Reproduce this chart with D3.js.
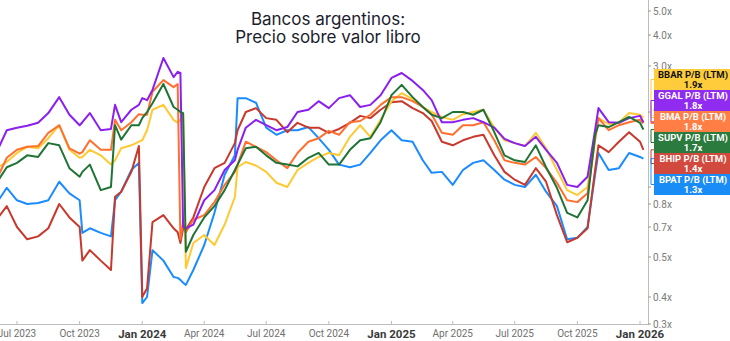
<!DOCTYPE html>
<html>
<head>
<meta charset="utf-8">
<script src="https://cdn.jsdelivr.net/npm/d3@7"></script>
<style>
  body { margin: 0; background: #fff; }
  svg { display: block; font-family: Roboto, "Noto Sans", sans-serif; }
</style>
</head>
<body>
<div id="chart"></div>
<script>
// fechas (quincenales, con algunos puntos extra donde hay saltos)
const dates = [
  "2023-06-01","2023-06-16","2023-07-01","2023-07-16","2023-08-01","2023-08-16","2023-09-01","2023-09-16",
  "2023-10-01","2023-10-05","2023-10-16","2023-11-01","2023-11-16","2023-11-22","2023-12-01","2023-12-16",
  "2023-12-27","2024-01-01","2024-01-08","2024-01-16","2024-02-01","2024-02-16","2024-02-22","2024-02-26",
  "2024-03-01","2024-03-05","2024-03-16","2024-04-01","2024-04-16","2024-05-01","2024-05-16","2024-05-20",
  "2024-06-01","2024-06-16","2024-07-01","2024-07-16","2024-08-01","2024-08-16","2024-09-01","2024-09-16",
  "2024-10-01","2024-10-16","2024-11-01","2024-11-16","2024-12-01","2024-12-16","2025-01-01","2025-01-16",
  "2025-02-01","2025-02-16","2025-03-01","2025-03-16","2025-04-01","2025-04-16","2025-05-01","2025-05-16",
  "2025-06-01","2025-06-16","2025-07-01","2025-07-16","2025-08-01","2025-08-16","2025-09-01","2025-09-16",
  "2025-10-01","2025-10-16","2025-10-27","2025-11-01","2025-11-16","2025-12-01","2025-12-16","2026-01-01",
  "2026-01-06"
];

const bbar = [1.19,1.26,1.37,1.45,1.43,1.57,1.77,1.41, 1.31,1.32,1.41,1.34,1.23,1.28,1.43,1.47,
  1.52,1.54,1.69,2.04,2.13,1.86,1.81,1.86, 1.95,0.47,0.585,0.64,0.572,0.71,0.877,1.20,
  1.26,1.22,1.15,1.04,1.00,1.17,1.25,1.32, 1.37,1.34,1.59,1.77,1.59,1.86,2.20,2.36,
  2.24,2.09,2.00,1.91,1.86,1.96,2.00,2.04, 1.73,1.54,1.50,1.46,1.65,1.43,1.17,0.96,
  0.90,1.00,1.62,1.89,1.79,1.81,1.98,1.95, 1.90];

const ggal = [1.38,1.69,1.73,1.76,1.81,1.98,2.28,1.95, 1.77,1.82,1.98,1.69,1.71,2.13,1.82,2.04,
  2.13,2.26,2.22,2.43,3.23,2.72,2.85,2.82, 0.70,0.69,0.71,0.84,0.96,1.17,1.28,1.41,
  1.73,1.86,1.77,1.69,1.74,2.00,2.04,2.20, 2.07,2.26,2.32,2.09,2.13,2.32,2.70,2.82,
  2.63,2.43,2.22,1.82,1.82,1.86,1.89,1.82, 1.73,1.56,1.50,1.46,1.59,1.41,1.25,1.02,
  1.00,1.10,1.69,2.07,1.82,1.81,1.89,1.93, 1.82];

const bma = [1.07,1.31,1.41,1.45,1.46,1.65,1.77,1.43, 1.36,1.38,1.54,1.41,1.41,1.86,1.69,1.82,
  1.96,1.95,1.95,2.39,2.65,2.49,2.56,0.61, 0.72,0.66,0.73,0.75,0.82,1.02,1.15,1.23,
  1.52,1.45,1.38,1.28,1.19,1.37,1.52,1.57, 1.68,1.62,1.82,1.84,1.95,2.13,2.28,2.28,
  2.20,2.09,1.96,1.65,1.62,1.77,1.77,1.82, 1.54,1.28,1.25,1.23,1.32,1.19,1.04,0.84,
  0.82,0.92,1.54,1.89,1.69,1.77,1.82,1.86, 1.80];

const supv = [1.04,1.20,1.25,1.34,1.32,1.50,1.47,1.19, 1.10,1.15,1.23,0.96,1.00,1.77,1.55,1.77,
  1.77,1.89,2.00,2.16,2.56,2.09,2.04,2.00, 1.98,0.53,0.64,0.74,0.79,0.96,1.17,1.23,
  1.43,1.45,1.34,1.25,1.23,1.21,1.31,1.37, 1.23,1.23,1.41,1.54,1.57,1.82,2.32,2.54,
  2.28,2.09,1.95,1.89,2.00,2.00,1.95,2.04, 1.66,1.34,1.28,1.26,1.47,1.20,0.99,0.76,
  0.74,0.84,1.62,1.77,1.74,1.82,1.91,1.81, 1.70];

const bhip = [0.73,0.79,0.70,0.61,0.63,0.69,0.80,0.74, 0.70,0.49,0.54,0.49,0.465,0.88,0.94,1.15,
  1.46,0.40,0.42,0.72,0.75,0.69,0.66,0.585, 0.69,0.68,0.74,1.00,1.19,1.25,1.50,1.69,
  2.00,2.07,1.89,1.86,1.66,1.81,1.73,1.73, 1.65,1.71,1.81,1.93,1.89,2.04,2.18,2.20,
  2.07,1.98,1.84,1.52,1.47,1.54,1.59,1.62, 1.34,1.15,1.07,1.02,1.19,1.05,0.75,0.59,
  0.62,0.69,1.17,1.47,1.38,1.52,1.66,1.52, 1.41];

const bpat = [0.81,0.99,0.84,0.80,0.81,0.84,1.05,0.92, 0.84,0.655,0.69,0.655,0.63,0.84,0.94,1.17,
  1.25,0.375,0.40,0.54,0.49,0.447,0.445,0.44, 0.433,0.428,0.465,0.572,0.76,1.12,1.34,2.26,
  2.26,2.17,1.73,1.62,1.69,1.69,1.74,1.57, 1.41,1.23,1.20,1.23,1.37,1.54,1.69,1.54,
  1.52,1.28,1.14,1.15,1.02,1.17,1.25,1.28, 1.17,1.07,1.02,1.00,1.12,0.94,0.79,0.61,
  0.62,0.70,1.12,1.37,1.17,1.19,1.37,1.32, 1.30];

const xTicks = ["2023-07-01","2023-10-01","2024-01-01","2024-04-01","2024-07-01","2024-10-01",
  "2025-01-01","2025-04-01","2025-07-01","2025-10-01","2026-01-01"];
const yTicks = [0.3, 0.4, 0.5, 0.7, 0.8, 1, 2, 3, 4, 5];
// el eje original no es logarítmico puro: posiciones de cada marca en la imagen
const yTickPx = [324, 297, 257, 227, 204, 187, 112, 66, 35, 11];

const series = [
  { name: "BPAT", values: bpat, line: "#1a8cff", box: "#1a8cf5", ink: "#fff" },
  { name: "BHIP", values: bhip, line: "#c9382c", box: "#d24a3e", ink: "#fff" },
  { name: "BBAR", values: bbar, line: "#ffc933", box: "#ffcd3c", ink: "#111" },
  { name: "BMA",  values: bma,  line: "#ff6f2e", box: "#ff7e45", ink: "#fff" },
  { name: "GGAL", values: ggal, line: "#8a1ff0", box: "#8f2cf0", ink: "#fff" },
  { name: "SUPV", values: supv, line: "#1f7435", box: "#2b7a3e", ink: "#fff" }
];
const labelOrder = ["BBAR", "GGAL", "BMA", "SUPV", "BHIP", "BPAT"];

const width = 730, height = 341;
const plotRight = 648, plotBottom = 324;

const parse = d3.timeParse("%Y-%m-%d");
const dts = dates.map(parse);

const x = d3.scaleTime()
  .domain([parse("2023-07-01"), parse("2026-01-01")])
  .range([17, 640]);

const y = d3.scaleLog()
  .domain(yTicks)
  .range(yTickPx);

const svg = d3.select("#chart").append("svg")
  .attr("width", width)
  .attr("height", height);

svg.append("defs").append("clipPath").attr("id", "plot")
  .append("rect").attr("x", 0).attr("y", 0).attr("width", plotRight).attr("height", plotBottom);

// titulo
const title = svg.append("text")
  .attr("x", 328).attr("text-anchor", "middle")
  .style("font-family", "Inter, Roboto, sans-serif")
  .style("font-size", "17px")
  .attr("fill", "#1b1d2e");
title.append("tspan").attr("x", 328).attr("y", 25).text("Bancos argentinos:");
title.append("tspan").attr("x", 328).attr("y", 43).text("Precio sobre valor libro");

// eje x
svg.append("line")
  .attr("x1", 0).attr("x2", plotRight)
  .attr("y1", plotBottom + 0.5).attr("y2", plotBottom + 0.5)
  .attr("stroke", "#bdbdbd");

const xg = svg.append("g");
xTicks.forEach(t => {
  const d = parse(t);
  const px = x(d);
  const isJan = d.getMonth() === 0;
  xg.append("line")
    .attr("x1", px).attr("x2", px)
    .attr("y1", plotBottom - 3).attr("y2", plotBottom)
    .attr("stroke", "#bdbdbd");
  xg.append("text")
    .attr("x", px).attr("y", isJan ? 338 : 337)
    .attr("text-anchor", "middle")
    .style("font-size", isJan ? "11.5px" : "10px")
    .style("font-weight", isJan ? "bold" : "normal")
    .attr("fill", isJan ? "#3a3a3a" : "#6f6f6f")
    .text(d3.timeFormat("%b %Y")(d));
});

// eje y (derecha)
svg.append("line")
  .attr("x1", plotRight + 0.5).attr("x2", plotRight + 0.5)
  .attr("y1", 0).attr("y2", plotBottom + 1)
  .attr("stroke", "#bdbdbd");

const yg = svg.append("g");
yTicks.forEach(v => {
  yg.append("line")
    .attr("x1", plotRight).attr("x2", plotRight + 3)
    .attr("y1", y(v)).attr("y2", y(v))
    .attr("stroke", "#9a9a9a");
  yg.append("text")
    .attr("x", plotRight + 5).attr("y", y(v))
    .attr("dy", "0.35em")
    .style("font-size", "10px")
    .attr("fill", "#7a7a7a")
    .text(v.toFixed(1) + "x");
});

// lineas
const line = d3.line()
  .x((d, i) => x(dts[i]))
  .y(d => y(d));

const lines = svg.append("g").attr("clip-path", "url(#plot)");
series.forEach(s => {
  lines.append("path")
    .datum(s.values)
    .attr("fill", "none")
    .attr("stroke", s.line)
    .attr("stroke-width", 2)
    .attr("stroke-linejoin", "round")
    .attr("d", line);
});

// etiquetas de ultimo valor
const boxTop = 69, boxH = 21, boxX = 654;
labelOrder.forEach((name, i) => {
  const s = series.find(d => d.name === name);
  const last = s.values[s.values.length - 1];
  const top = boxTop + i * boxH;
  const mid = top + boxH / 2;
  const vy = y(last);

  svg.append("path")
    .attr("d", `M${boxX},${mid}H${plotRight + 3}V${vy}H${boxX}`)
    .attr("fill", "none")
    .attr("stroke", s.line)
    .attr("stroke-width", 1);

  svg.append("rect")
    .attr("x", boxX).attr("y", top)
    .attr("width", width - boxX).attr("height", boxH)
    .attr("fill", s.box);

  const t = svg.append("text")
    .attr("text-anchor", "middle")
    .style("font-size", "9.5px")
    .style("font-weight", "bold")
    .attr("fill", s.ink);
  t.append("tspan").attr("x", 693).attr("y", top + 9).text(name + " P/B (LTM)");
  t.append("tspan").attr("x", 693).attr("y", top + 18.5).text(last.toFixed(1) + "x");
});
</script>
</body>
</html>
